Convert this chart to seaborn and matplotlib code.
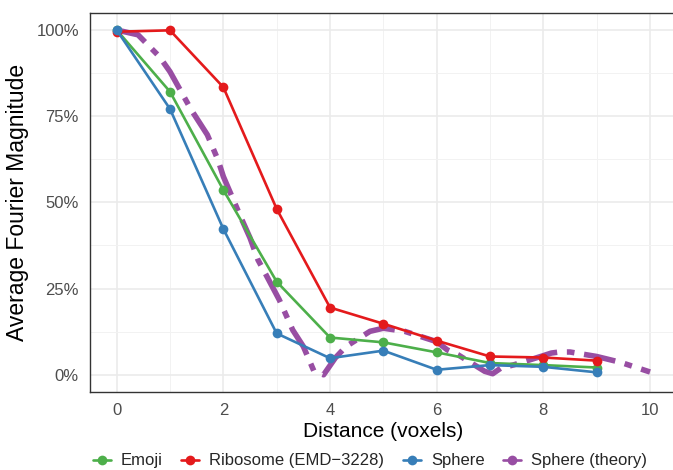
import numpy as np
import pandas as pd
import matplotlib
matplotlib.use("Agg")
import matplotlib.pyplot as plt
from matplotlib.lines import Line2D
from matplotlib.ticker import FuncFormatter, MultipleLocator
import seaborn as sns

# ---- data ----
distance = [0, 1, 2, 3, 4, 5, 6, 7, 8, 9]
emoji = [100, 82.1, 53.6, 27.0, 10.8, 9.4, 6.5, 3.4, 2.8, 2.1]
ribosome = [99.5, 99.9, 83.4, 48.1, 19.5, 14.8, 9.9, 5.3, 5.0, 4.1]
sphere = [100, 77.1, 42.3, 12.0, 4.8, 7.0, 1.45, 2.8, 2.3, 0.7]

theory_x = [0, 0.4, 0.8, 1.0, 1.4, 1.7, 1.9, 2.0, 2.35, 2.5, 2.65, 2.8, 3.05,
            3.3, 3.5, 3.7, 3.88, 4.1, 4.3, 4.75, 5.0, 5.4, 6.0, 6.2, 6.4, 6.9,
            7.05, 7.2, 7.45, 7.95, 8.15, 8.3, 8.5, 9.0, 9.45, 10.0]
theory_y = [100, 98.6, 92.3, 87.9, 76.8, 69.6, 62.3, 57.5, 44.9, 39.7, 33.3, 29.0,
            21.7, 13.0, 8.2, 1.0, 0.0, 4.9, 8.2, 12.6, 13.5, 12.6, 9.6, 7.2, 5.8,
            1.0, 0.3, 1.9, 2.9, 5.3, 6.3, 6.6, 6.6, 5.3, 3.6, 0.8]

series_names = ["Emoji", "Ribosome (EMD\u22123228)", "Sphere", "Sphere (theory)"]
colors = ["#4DAF4A", "#E41A1C", "#377EB8", "#984EA3"]

df = pd.DataFrame({
    "distance": distance * 3,
    "magnitude": emoji + ribosome + sphere,
    "type": [series_names[0]] * 10 + [series_names[1]] * 10 + [series_names[2]] * 10,
})
df_theory = pd.DataFrame({"distance": theory_x, "magnitude": theory_y})

# ---- style ----
sns.set_style("white")
plt.rcParams["font.family"] = ["Liberation Sans", "DejaVu Sans"]
plt.rcParams["lines.scale_dashes"] = False

fig = plt.figure(figsize=(6.73, 4.70), dpi=100)
ax = fig.add_axes([90 / 673, 1 - 392 / 470, (676.7 - 90) / 673, (392 - 12.75) / 470])

# theory curve (underneath)
sns.lineplot(data=df_theory, x="distance", y="magnitude", ax=ax, color=colors[3],
             linewidth=4.0, linestyle=(0, (23, 7, 5.5, 7)), sort=False,
             legend=False)
ax.lines[-1].set_dash_capstyle("butt")

sns.lineplot(data=df, x="distance", y="magnitude", hue="type",
             hue_order=series_names[:3], palette=colors[:3], marker="o",
             markersize=7, markeredgewidth=0, linewidth=1.9, ax=ax, legend=False)

ax.set_xlim(-0.5, 10.5)
ax.set_ylim(-5, 105)
ax.xaxis.set_major_locator(MultipleLocator(2))
ax.xaxis.set_minor_locator(MultipleLocator(1))
ax.yaxis.set_major_locator(MultipleLocator(25))
ax.yaxis.set_minor_locator(MultipleLocator(12.5))
ax.yaxis.set_major_formatter(FuncFormatter(lambda v, p: f"{v:.0f}%"))

ax.grid(which="major", color="#EBEBEB", linewidth=1.2)
ax.grid(which="minor", color="#F2F2F2", linewidth=0.7)
ax.set_axisbelow(True)

for side in ["left", "bottom", "top"]:
    ax.spines[side].set_visible(True)
    ax.spines[side].set_color("#333333")
    ax.spines[side].set_linewidth(1.0)
ax.spines["right"].set_visible(False)

ax.tick_params(which="major", direction="out", length=4, width=0.9, color="#333333",
               labelcolor="#4D4D4D", labelsize=12, pad=4)
ax.tick_params(which="minor", length=0)

ax.set_xlabel("Distance (voxels)", fontsize=15, color="black", labelpad=3)
ax.set_ylabel("Average Fourier Magnitude", fontsize=16.5, color="black", labelpad=5)

handles = [Line2D([0], [0], color=c, marker="o", markersize=7, markeredgewidth=0,
                  linewidth=1.9) for c in colors]
fig.legend(handles, series_names, loc="center", bbox_to_anchor=(370 / 673, 1 - 461 / 470),
           ncol=4, frameon=False, fontsize=12, handlelength=1.1, handletextpad=0.6,
           columnspacing=1.1)

fig.savefig("out.png", dpi=100)
